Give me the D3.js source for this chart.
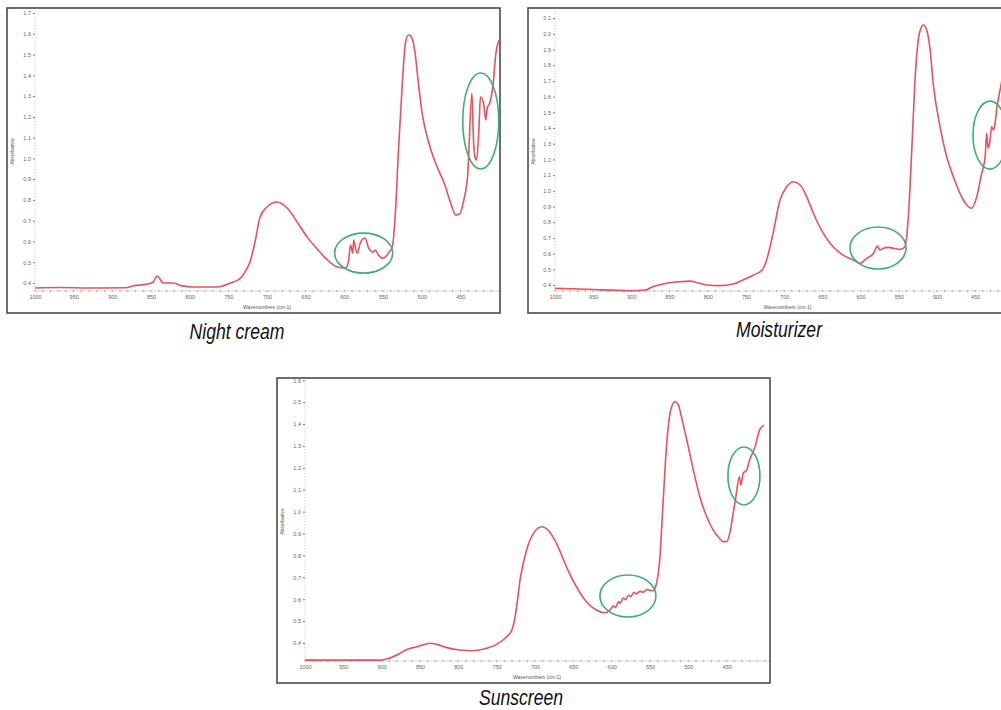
<!DOCTYPE html>
<html>
<head>
<meta charset="utf-8">
<script src="https://cdn.jsdelivr.net/npm/d3@7"></script>
<style>
  body { margin: 0; background: #fff; }
  svg { display: block; }
  .tick text { font-family: "Liberation Sans", Arial, sans-serif; }
</style>
</head>
<body>
<svg id="chart" width="1001" height="710"></svg>
<script>
// ---- Shared axis ticks ----
const wavenumberTicks = [1000, 950, 900, 850, 800, 750, 700, 650, 600, 550, 500, 450];
const wavenumberMinor = d3.range(1000, 399, -10);

// ---- Night cream spectrum ----
const nightCreamWavenumber = [1000, 968, 930, 883, 873, 855, 847, 842, 834, 821, 810, 795, 764, 747, 734, 727, 722, 715, 709, 700, 687, 674, 661, 648, 635, 622, 609, 599, 595, 592, 589, 588, 585, 583, 579, 573, 569, 563, 560, 556, 551, 547, 543, 538, 534, 530, 525, 521, 517, 514, 509, 504, 499, 491, 481, 470, 462.5, 456, 451, 445.5, 440.5, 435, 433, 431, 429, 426, 424, 420, 417, 415, 413, 408, 404, 400];
const nightCreamAbsorbance = [0.376, 0.378, 0.376, 0.377, 0.386, 0.395, 0.405, 0.434, 0.400, 0.400, 0.386, 0.381, 0.381, 0.400, 0.424, 0.463, 0.501, 0.607, 0.718, 0.766, 0.790, 0.761, 0.694, 0.621, 0.564, 0.511, 0.477, 0.472, 0.496, 0.583, 0.544, 0.607, 0.559, 0.544, 0.597, 0.617, 0.573, 0.549, 0.559, 0.535, 0.520, 0.525, 0.544, 0.573, 0.737, 1.040, 1.363, 1.556, 1.594, 1.589, 1.522, 1.353, 1.209, 1.079, 0.968, 0.872, 0.785, 0.727, 0.732, 0.800, 0.920, 1.315, 1.088, 1.007, 0.992, 1.137, 1.296, 1.267, 1.185, 1.247, 1.257, 1.344, 1.507, 1.570];
const nightCreamTicks = [0.4, 0.5, 0.6, 0.7, 0.8, 0.9, 1.0, 1.1, 1.2, 1.3, 1.4, 1.5, 1.6, 1.7];
const nightCreamRingWavenumber = [423.6, 575];
const nightCreamRingAbsorbance = [1.18, 0.544];

// ---- Moisturizer spectrum ----
const moisturizerWavenumber = [1000, 958, 902, 882, 872, 854, 836, 823, 814, 801, 784, 767, 754, 740, 729, 723, 718.5, 714.5, 705.5, 697, 688, 679, 670.5, 662, 649, 636, 623, 609.5, 601, 592, 583, 578, 574.5, 570, 564, 557, 548, 542, 537.5, 533, 529, 523, 518, 513.5, 509, 505, 496, 487.3, 478.6, 469.9, 461.1, 454.5, 448, 441.5, 437, 435, 433, 430.5, 428.5, 426, 424, 422, 417.5, 415, 408, 400];
const moisturizerAbsorbance = [0.379, 0.373, 0.364, 0.368, 0.389, 0.411, 0.421, 0.425, 0.415, 0.400, 0.396, 0.406, 0.432, 0.464, 0.496, 0.559, 0.644, 0.731, 0.941, 1.024, 1.058, 1.037, 0.962, 0.859, 0.731, 0.644, 0.591, 0.559, 0.538, 0.570, 0.602, 0.648, 0.623, 0.634, 0.640, 0.634, 0.627, 0.644, 0.835, 1.260, 1.687, 2.003, 2.056, 2.024, 1.897, 1.685, 1.408, 1.217, 1.090, 0.984, 0.910, 0.889, 0.962, 1.111, 1.217, 1.366, 1.271, 1.324, 1.408, 1.387, 1.430, 1.515, 1.642, 1.706, 1.860, 2.000];
const moisturizerTicks = [0.4, 0.5, 0.6, 0.7, 0.8, 0.9, 1.0, 1.1, 1.2, 1.3, 1.4, 1.5, 1.6, 1.7, 1.8, 1.9, 2.0, 2.1];
const moisturizerRingWavenumber = [430.6, 577.2];
const moisturizerRingAbsorbance = [1.355, 0.636];

// ---- Sunscreen spectrum ----
const sunscreenWavenumber = [1000, 959, 902, 891, 880, 867, 854, 843.5, 837, 828, 815, 798, 780.5, 763, 750, 737, 730, 725, 719, 711, 702, 691, 683, 672, 659, 646, 633, 620, 609, 602, 598, 595, 591, 589, 585, 582, 578, 575, 571, 568, 563, 559, 554, 546, 541.5, 537, 533, 528.5, 523, 517.5, 513, 509, 502, 493.5, 485, 476, 467.5, 461, 454.5, 450, 446, 441.5, 438, 433.5, 431.5, 428.5, 424, 420, 413, 407, 401];
const sunscreenAbsorbance = [0.322, 0.322, 0.322, 0.330, 0.345, 0.371, 0.383, 0.394, 0.399, 0.394, 0.379, 0.368, 0.365, 0.376, 0.394, 0.429, 0.460, 0.540, 0.700, 0.825, 0.901, 0.931, 0.916, 0.855, 0.748, 0.657, 0.589, 0.551, 0.538, 0.551, 0.570, 0.562, 0.590, 0.582, 0.605, 0.598, 0.618, 0.612, 0.632, 0.624, 0.636, 0.632, 0.644, 0.639, 0.673, 0.794, 1.038, 1.296, 1.464, 1.502, 1.487, 1.433, 1.327, 1.190, 1.068, 0.977, 0.916, 0.885, 0.863, 0.863, 0.901, 0.992, 1.068, 1.159, 1.121, 1.175, 1.190, 1.236, 1.296, 1.373, 1.395];
const sunscreenTicks = [0.4, 0.5, 0.6, 0.7, 0.8, 0.9, 1.0, 1.1, 1.2, 1.3, 1.4, 1.5, 1.6];
const sunscreenRingWavenumber = [427.5, 578.8];
const sunscreenRingAbsorbance = [1.163, 0.615];

// ---- Layout ----
const PANEL_W = 493, PANEL_H = 305;
const PLOT_TOP = 4, PLOT_BOTTOM = 283;
const LINE_COLOR = "#e8525c";
const RING_COLOR = "#3fae78";

const panels = [
  { caption: "Night cream", x: 7, y: 8, left: 28, right: 492, capX: 237, capY: 339,
    wn: nightCreamWavenumber, ab: nightCreamAbsorbance, ticks: nightCreamTicks,
    yDomain: [0.3615, 1.705],
    rings: { wn: nightCreamRingWavenumber, ab: nightCreamRingAbsorbance, r: [[18, 48], [29, 20]] } },
  { caption: "Moisturizer", x: 528, y: 8, left: 27, right: 485.4, capX: 779, capY: 337,
    wn: moisturizerWavenumber, ab: moisturizerAbsorbance, ticks: moisturizerTicks,
    yDomain: [0.362, 2.139],
    rings: { wn: moisturizerRingWavenumber, ab: moisturizerRingAbsorbance, r: [[17, 34], [28, 21]] } },
  { caption: "Sunscreen", x: 277, y: 378, left: 28, right: 488, capX: 521, capY: 705,
    wn: sunscreenWavenumber, ab: sunscreenAbsorbance, ticks: sunscreenTicks,
    yDomain: [0.318, 1.592],
    rings: { wn: sunscreenRingWavenumber, ab: sunscreenRingAbsorbance, r: [[16, 29], [28, 21]] } }
];

const svg = d3.select("#chart");

panels.forEach(p => {
  const g = svg.append("g").attr("transform", `translate(${p.x},${p.y})`);

  const x = d3.scaleLinear().domain([1000, 400]).range([p.left, p.right]);
  const y = d3.scaleLinear().domain(p.yDomain).range([PLOT_BOTTOM, PLOT_TOP]);

  // frame
  g.append("rect")
    .attr("x", 0).attr("y", 0)
    .attr("width", PANEL_W).attr("height", PANEL_H)
    .attr("fill", "#fff")
    .attr("stroke", "#4a4a4a").attr("stroke-width", 1.6);

  // y axis
  const yAxis = g.append("g")
    .attr("transform", `translate(${p.left},0)`)
    .call(d3.axisLeft(y).tickValues(p.ticks).tickSize(2).tickPadding(2).tickFormat(d3.format(".1f")));
  yAxis.select(".domain").remove();
  yAxis.selectAll(".tick line").attr("stroke", "#777");
  yAxis.selectAll(".tick text").attr("font-size", 5.5).attr("fill", "#666");
  g.append("line")
    .attr("x1", p.left).attr("x2", p.left)
    .attr("y1", PLOT_TOP - 2).attr("y2", PLOT_BOTTOM)
    .attr("stroke", "#c8c8c8").attr("stroke-width", 0.8)
    .attr("stroke-dasharray", "1.5,1.5");

  // x axis
  g.append("line")
    .attr("x1", p.left).attr("x2", PANEL_W - 1)
    .attr("y1", PLOT_BOTTOM).attr("y2", PLOT_BOTTOM)
    .attr("stroke", "#cfcfcf").attr("stroke-width", 0.8);
  g.append("g").selectAll("line")
    .data(wavenumberMinor)
    .join("line")
    .attr("x1", d => x(d)).attr("x2", d => x(d))
    .attr("y1", PLOT_BOTTOM - 1).attr("y2", PLOT_BOTTOM + 1)
    .attr("stroke", "#9a9a9a").attr("stroke-width", 0.8);
  const xAxis = g.append("g")
    .attr("transform", `translate(0,${PLOT_BOTTOM})`)
    .call(d3.axisBottom(x).tickValues(wavenumberTicks).tickSize(0).tickPadding(4).tickFormat(d3.format("d")));
  xAxis.select(".domain").remove();
  xAxis.selectAll(".tick text").attr("font-size", 5.5).attr("fill", "#666");

  // axis titles
  g.append("text")
    .attr("x", (p.left + 492) / 2).attr("y", 301)
    .attr("text-anchor", "middle")
    .attr("font-family", "Liberation Sans, Arial, sans-serif")
    .attr("font-size", 5).attr("fill", "#555")
    .text("Wavenumbers (cm-1)");
  g.append("text")
    .attr("transform", `translate(7,${(PLOT_TOP + PLOT_BOTTOM) / 2}) rotate(-90)`)
    .attr("text-anchor", "middle")
    .attr("font-family", "Liberation Sans, Arial, sans-serif")
    .attr("font-size", 5).attr("fill", "#555")
    .text("Absorbance");

  // spectrum
  const pts = p.wn.map((w, k) => [w, p.ab[k]]);
  const line = d3.line()
    .x(d => x(d[0]))
    .y(d => y(d[1]))
    .curve(d3.curveMonotoneX);
  g.append("path")
    .attr("d", line(pts))
    .attr("fill", "none")
    .attr("stroke", LINE_COLOR)
    .attr("stroke-width", 1.6)
    .attr("stroke-linejoin", "round");

  // highlighted regions
  p.rings.wn.forEach((w, k) => {
    g.append("ellipse")
      .attr("cx", x(w)).attr("cy", y(p.rings.ab[k]))
      .attr("rx", p.rings.r[k][0]).attr("ry", p.rings.r[k][1])
      .attr("fill", "none")
      .attr("stroke", RING_COLOR).attr("stroke-width", 1.6);
  });

  // caption (condensed italic)
  svg.append("text")
    .attr("transform", `translate(${p.capX},${p.capY}) scale(0.8,1)`)
    .attr("text-anchor", "middle")
    .attr("font-family", "'Liberation Sans', Arial, sans-serif")
    .attr("font-style", "italic")
    .attr("font-size", 22)
    .attr("fill", "#111")
    .text(p.caption);
});
</script>
</body>
</html>
